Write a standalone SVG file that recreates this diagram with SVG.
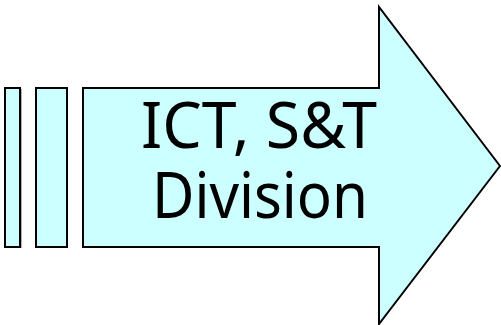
<svg xmlns="http://www.w3.org/2000/svg" width="501" height="325" viewBox="0 0 501 325">
  <style>
    .shape { fill: #CCFFFF; stroke: #000000; stroke-width: 2; stroke-linejoin: miter; }
    .shadow { fill: #B0B0B0; }
    .label { font-family: "Noto Sans", "DejaVu Sans", sans-serif; font-size: 64px; fill: #000000; text-anchor: middle; }
  </style>
  <g id="stripe1">
    <rect class="shadow" x="6" y="89" width="16" height="159"/>
    <rect class="shape" x="5" y="88" width="15" height="159"/>
  </g>
  <g id="stripe2">
    <rect class="shadow" x="37" y="89" width="31" height="159"/>
    <rect class="shape" x="36" y="88" width="31" height="159"/>
  </g>
  <g id="arrow">
    <polygon class="shape" points="83,88 379,88 379,7 500,166 379,324 379,247 83,247"/>
    <text class="label" x="259" y="148" textLength="236" lengthAdjust="spacingAndGlyphs">ICT, S&amp;T</text>
    <text class="label" x="260" y="218" textLength="216" lengthAdjust="spacingAndGlyphs">Division</text>
  </g>
  <g id="connectors"/>
</svg>
